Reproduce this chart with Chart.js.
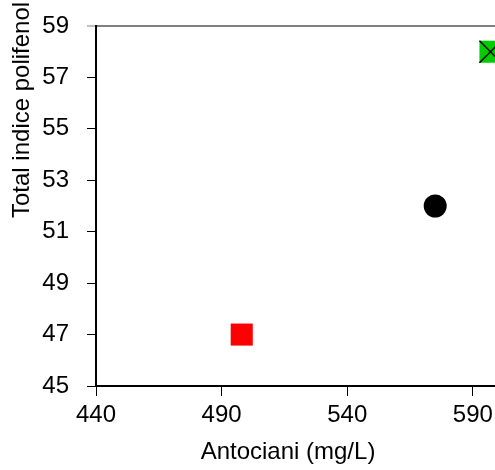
<!DOCTYPE html>
<html>
<head>
<meta charset="utf-8">
<script src="https://cdn.jsdelivr.net/npm/chart.js@4.4.0/dist/chart.umd.min.js"></script>
<style>
html,body{margin:0;padding:0;background:#fff;}
canvas{display:block;}
</style>
</head>
<body>
<canvas id="c" width="495" height="470"></canvas>
<script>
// Data
const xTitle = 'Antociani (mg/L)';
const yTitle = 'Total indice polifenol';
const xTicks = [440, 490, 540, 590];
const yTicks = [45, 47, 49, 51, 53, 55, 57, 59];
const redSeries = [{x: 498, y: 47}];
const blackSeries = [{x: 575, y: 52}];
const greenSeries = [{x: 597, y: 58}];

const FONT = "'Liberation Sans', Arial, sans-serif";
const FSIZE = 24;

const titlesPlugin = {
  id: 'titlesPlugin',
  afterDraw(chart) {
    const ctx = chart.ctx;
    ctx.save();
    ctx.font = FSIZE + "px " + FONT;
    ctx.fillStyle = '#000';
    // x title
    ctx.textAlign = 'center';
    ctx.textBaseline = 'middle';
    ctx.fillText(xTitle, 288, 452);
    // y title
    ctx.translate(29, 218);
    ctx.rotate(-Math.PI / 2);
    ctx.textAlign = 'left';
    ctx.textBaseline = 'alphabetic';
    ctx.fillText(yTitle, 0, 0);
    ctx.restore();
  }
};

new Chart(document.getElementById('c'), {
  type: 'scatter',
  data: {
    datasets: [
      {data: redSeries, pointStyle: 'rect', pointRadius: 15.6, pointHoverRadius: 15.6,
       backgroundColor: '#ff0000', borderColor: '#ff0000', borderWidth: 0},
      {data: blackSeries, pointStyle: 'circle', pointRadius: 11.5, pointHoverRadius: 11.5,
       backgroundColor: '#000000', borderColor: '#000000', borderWidth: 0},
      {data: greenSeries, pointStyle: 'crossRot', pointRadius: 15.6, pointHoverRadius: 15.6,
       backgroundColor: '#000000', borderColor: '#000000', borderWidth: 1.5},
      {data: greenSeries, pointStyle: 'rect', pointRadius: 15.6, pointHoverRadius: 15.6,
       backgroundColor: '#00cc00', borderColor: '#00cc00', borderWidth: 0}
    ]
  },
  options: {
    responsive: false,
    animation: false,
    events: [],
    layout: {autoPadding: false, padding: {top: 26, right: 0, left: 0, bottom: 0}},
    plugins: {legend: {display: false}, tooltip: {enabled: false}},
    scales: {
      x: {
        type: 'linear',
        min: 440,
        max: 598.8,
        afterBuildTicks(scale) { scale.ticks = xTicks.map(v => ({value: v})); },
        afterFit(scale) { scale.height = 84; scale.paddingRight = 0; scale.paddingLeft = 0; },
        border: {display: true, color: '#000', width: 2},
        grid: {display: true, drawOnChartArea: false, drawTicks: true, tickLength: 10, color: '#000', tickColor: '#000', tickWidth: 1},
        ticks: {color: '#000', font: {family: FONT, size: FSIZE}, padding: 5, maxRotation: 0, autoSkip: false},
        title: {display: false}
      },
      y: {
        type: 'linear',
        min: 45,
        max: 59,
        afterBuildTicks(scale) { scale.ticks = yTicks.map(v => ({value: v})); },
        afterFit(scale) { scale.width = 96; scale.paddingTop = 0; scale.paddingBottom = 0; },
        border: {display: true, color: '#000', width: 2},
        grid: {
          display: true, drawOnChartArea: true, drawTicks: true, tickLength: 9,
          color: c => (c.tick && c.tick.value === 59) ? '#808080' : 'rgba(0,0,0,0)',
          lineWidth: c => (c.tick && c.tick.value === 59) ? 2 : 1,
          tickColor: c => (c.tick && c.tick.value === 59) ? '#808080' : '#000',
          tickWidth: 1
        },
        ticks: {color: '#000', font: {family: FONT, size: FSIZE}, padding: 18, autoSkip: false}
      }
    }
  },
  plugins: [titlesPlugin]
});
</script>
</body>
</html>
